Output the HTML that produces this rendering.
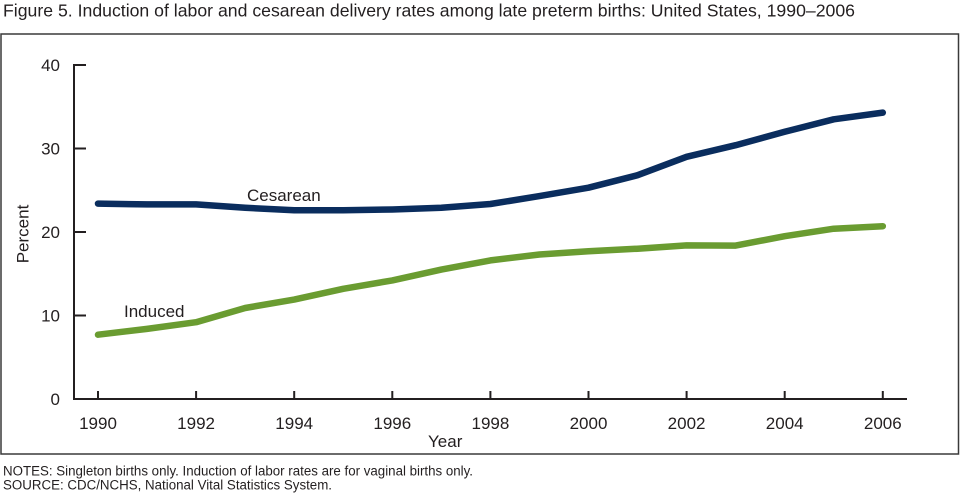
<!DOCTYPE html>
<html><head><meta charset="utf-8"><style>
html,body{margin:0;padding:0;background:#fff;}
svg{display:block;}
text{font-family:"Liberation Sans",Arial,sans-serif;fill:#231f20;}
</style></head><body>
<svg width="960" height="500" viewBox="0 0 960 500" xmlns="http://www.w3.org/2000/svg">
<rect x="0" y="0" width="960" height="500" fill="#fff"/>
<text x="3" y="16.5" font-size="17.5" textLength="852" lengthAdjust="spacingAndGlyphs">Figure 5. Induction of labor and cesarean delivery rates among late preterm births: United States, 1990–2006</text>
<rect x="1" y="34" width="957.5" height="420" fill="none" stroke="#3a3a3a" stroke-width="1.5"/>
<g stroke="#231f20" stroke-width="2" fill="none">
<path d="M86 65 H74 V399 H907"/>
<path d="M74 148.5 H86 M74 232 H86 M74 315.5 H86"/>
<path d="M98 399 V391 M196.1 399 V391 M294.2 399 V391 M392.3 399 V391 M490.4 399 V391 M588.5 399 V391 M686.6 399 V391 M784.7 399 V391 M882.8 399 V391"/>
</g>
<g font-size="17" text-anchor="end">
<text x="60" y="71">40</text>
<text x="60" y="154.5">30</text>
<text x="60" y="238">20</text>
<text x="60" y="321.5">10</text>
<text x="60" y="405">0</text>
</g>
<g font-size="17" text-anchor="middle">
<text x="98" y="429">1990</text>
<text x="196.1" y="429">1992</text>
<text x="294.2" y="429">1994</text>
<text x="392.3" y="429">1996</text>
<text x="490.4" y="429">1998</text>
<text x="588.5" y="429">2000</text>
<text x="686.6" y="429">2002</text>
<text x="784.7" y="429">2004</text>
<text x="882.8" y="429">2006</text>
</g>
<text x="428" y="447" font-size="17">Year</text>
<text x="0" y="0" font-size="17" text-anchor="middle" transform="translate(28.5,234) rotate(-90)">Percent</text>
<polyline fill="none" stroke="#0a2d5e" stroke-width="6.5" stroke-linecap="round" stroke-linejoin="round"
points="98,203.6 147.05,204.4 196.1,204.4 245.15,207.8 294.2,210.3 343.25,210.3 392.3,209.5 441.35,207.8 490.4,204 539.45,196.1 588.5,187.7 637.55,175.2 686.6,156.8 735.65,145.2 784.7,131.8 833.75,119.3 882.8,112.6"/>
<polyline fill="none" stroke="#6a9c31" stroke-width="6.5" stroke-linecap="round" stroke-linejoin="round"
points="98,334.7 147.05,328.9 196.1,322.2 245.15,308 294.2,299.6 343.25,288.8 392.3,280.4 441.35,269.6 490.4,260.4 539.45,254.5 588.5,251.2 637.55,248.7 686.6,245.4 735.65,245.6 784.7,236.2 833.75,228.7 882.8,226.2"/>
<text x="247" y="201" font-size="17">Cesarean</text>
<text x="124" y="317" font-size="17">Induced</text>
<text x="3" y="475.5" font-size="13.5" textLength="470" lengthAdjust="spacingAndGlyphs">NOTES: Singleton births only. Induction of labor rates are for vaginal births only.</text>
<text x="3" y="489.5" font-size="13.5" textLength="329" lengthAdjust="spacingAndGlyphs">SOURCE: CDC/NCHS, National Vital Statistics System.</text>
</svg>
</body></html>
